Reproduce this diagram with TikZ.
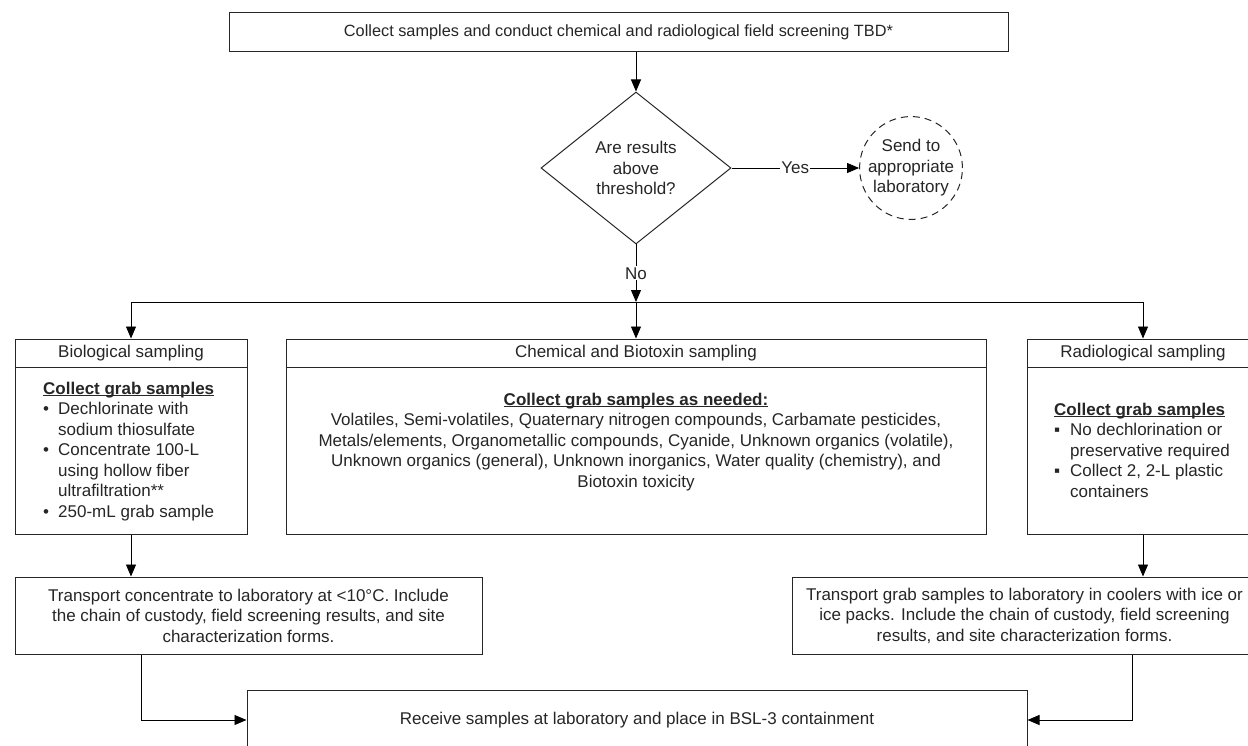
\documentclass[tikz,border=0pt]{standalone}
\usepackage{fontspec}
\setmainfont{Liberation Sans}
\usetikzlibrary{arrows.meta,shapes.geometric}
\newcommand\dfont{\fontsize{17}{20.5}\selectfont}
\newcommand\ulh[1]{\setbox0\hbox{\bfseries #1}\rlap{\rule[-2.2pt]{\wd0}{1.1pt}}\box0}
\begin{document}
\begin{tikzpicture}[x=1pt,y=-1pt,
  font=\dfont, text=black!85,
  box/.style={draw=black!85, line width=1pt, inner sep=0pt, align=center},
  arr/.style={draw=black, line width=0.9pt, -{Triangle[length=12pt,width=10pt]}},
  lbl/.style={fill=white, inner sep=1pt},
  body/.style={inner sep=0pt, align=left},
]
\useasboundingbox (0,0) rectangle (1248,746);
\fill[white] (0,0) rectangle (1248,746);

\node[box, minimum width=779pt, minimum height=39pt, font=\fontsize{16.3}{20}\selectfont] (top) at (618.5,32.5) {Collect samples and conduct chemical and radiological field screening TBD*};

\node[box, diamond, aspect=1.25, minimum width=190pt, minimum height=152pt] (dec) at (636,168) {Are results\\above\\threshold?};

\node[box, circle, dash pattern=on 7pt off 5pt, minimum size=96pt] (lab) at (911,168) {Send to\\appropriate\\laboratory};

% sampling boxes
\node[box, minimum width=232pt, minimum height=195pt] (bio) at (131,436.5) {};
\node[box, minimum width=700pt, minimum height=195pt] (chem) at (636,436.5) {};
\node[box, minimum width=232pt, minimum height=195pt] (rad) at (1143,436.5) {};
\draw[line width=1pt, black!85] ([yshift=-29pt]bio.north west) -- ([yshift=-29pt]bio.north east);
\draw[line width=1pt, black!85] ([yshift=-29pt]chem.north west) -- ([yshift=-29pt]chem.north east);
\draw[line width=1pt, black!85] ([yshift=-29pt]rad.north west) -- ([yshift=-29pt]rad.north east);

\node (bioh) at (131,353.5) {Biological sampling};
\node (chemh) at (636,353.5) {Chemical and Biotoxin sampling};
\node (radh) at (1143,353.5) {Radiological sampling};

\node[body, anchor=north west] (biob) at (43,381.6) {\ulh{Collect grab samples}\\
\makebox[15pt][l]{•}Dechlorinate with\\
\hspace*{15pt}sodium thiosulfate\\
\makebox[15pt][l]{•}Concentrate 100-L\\
\hspace*{15pt}using hollow fiber\\
\hspace*{15pt}ultrafiltration**\\
\makebox[15pt][l]{•}250-mL grab sample};

\node[body, align=center, anchor=north] (chemb) at (636,392.6) {\ulh{Collect grab samples as needed:}\\
Volatiles, Semi-volatiles, Quaternary nitrogen compounds, Carbamate pesticides,\\
Metals/elements, Organometallic compounds, Cyanide, Unknown organics (volatile),\\
Unknown organics (general), Unknown inorganics, Water quality (chemistry), and\\
Biotoxin toxicity};

\node[body, anchor=north west] (radb) at (1054,402.6) {\ulh{Collect grab samples}\\
\makebox[16pt][l]{▪}No dechlorination or\\
\hspace*{16pt}preservative required\\
\makebox[16pt][l]{▪}Collect 2, 2-L plastic\\
\hspace*{16pt}containers};

% transport boxes
\node[box, minimum width=467pt, minimum height=77pt] (tl) at (248.5,615.5) {Transport concentrate to laboratory at <10°C. Include\\the chain of custody, field screening results, and site\\characterization forms.};
\node[box, minimum width=465pt, minimum height=77pt] (tr) at (1024.5,615.5) {Transport grab samples to laboratory in coolers with ice or\\ice packs. Include the chain of custody, field screening\\results, and site characterization forms.};

\node[box, minimum width=780pt, minimum height=60pt] (recv) at (637,720) {Receive samples at laboratory and place in BSL-3 containment};

% connectors
\coordinate (j) at (636,302);
\draw[arr] (dec.north |- top.south) -- (dec.north);
\draw[arr] (dec.east) -- node[lbl]{Yes} (lab.west);
\draw[arr] (dec.south) -- node[lbl]{No} (j);
\draw[arr] (j) -| (bio.north);
\draw[arr] (j) -- (chem.north);
\draw[arr] (j) -| (rad.north);
\draw[arr] (bio.south) -- (bio.south |- tl.north);
\draw[arr] (rad.south) -- (rad.south |- tr.north);
\draw[arr] ([xshift=127pt]tl.south west) |- (recv.west);
\draw[arr] ([xshift=341pt]tr.south west) |- (recv.east);
\end{tikzpicture}
\end{document}
